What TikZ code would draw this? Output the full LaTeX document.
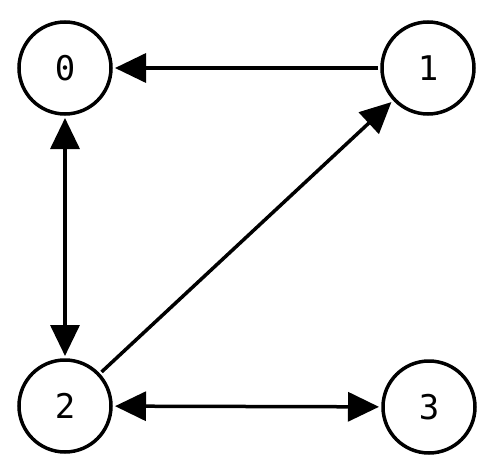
\documentclass[tikz,border=0pt]{standalone}
\usepackage{fontspec}
\setmonofont{DejaVu Sans Mono}
\usetikzlibrary{arrows.meta}
\begin{document}
\begin{tikzpicture}[x=1pt,y=-1pt]
		\tikzstyle{sommet}=[circle, draw, line width=3.5pt, minimum size=92pt, inner sep=0pt, outer sep=4pt, font=\ttfamily\fontsize{34}{34}\selectfont]
		\tikzstyle{arc}=[line width=3.5pt, -{Triangle[length=31pt,width=29pt]}]
		\tikzstyle{arc_double}=[line width=3.5pt, {Triangle[length=31pt,width=29pt]}-{Triangle[length=31pt,width=29pt]}]
		\useasboundingbox (0,0) rectangle (495,476);
		\node[sommet] (s0) at (65,68) {0}; % haut gauche
		\node[sommet] (s1) at (428,68) {1};
		\node[sommet] (s2) at (65,406) {2}; % bas gauche
		\node[sommet] (s3) at (429,407) {3};
		\draw[arc] (s1) -- (s0);
		\draw[arc_double] (s0) -- (s2);
		\draw[arc] (s2) -- (s1);
		\draw[arc_double] (s2) -- (s3);
	\end{tikzpicture}
\end{document}
